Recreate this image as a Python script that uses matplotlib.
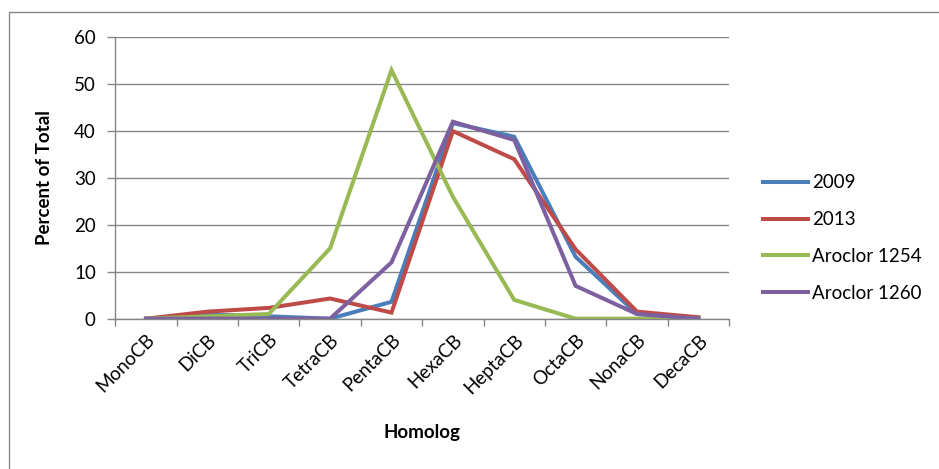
import matplotlib
matplotlib.use("Agg")
import matplotlib.pyplot as plt
import numpy as np
from matplotlib.patches import Rectangle

plt.rcParams['font.family'] = ['Lato', 'DejaVu Sans']

homologs = ['MonoCB', 'DiCB', 'TriCB', 'TetraCB', 'PentaCB',
            'HexaCB', 'HeptaCB', 'OctaCB', 'NonaCB', 'DecaCB']
y2009 = [0, 0.9, 0.5, 0, 3.6, 41.7, 38.8, 13.2, 1.0, 0.2]
y2013 = [0, 1.5, 2.3, 4.3, 1.3, 40.0, 34.0, 14.8, 1.5, 0.3]
aroclor1254 = [0, 0.5, 1.0, 15.0, 53.0, 26.0, 4.0, 0, 0, 0]
aroclor1260 = [0, 0, 0, 0, 12.0, 42.0, 38.1, 7.0, 1.0, 0]

series = [
    ('2009', y2009, '#4A7EBB'),
    ('2013', y2013, '#BE4B48'),
    ('Aroclor 1254', aroclor1254, '#98B954'),
    ('Aroclor 1260', aroclor1260, '#7D60A0'),
]

FS = 13.5
W, H = 939, 469

fig = plt.figure(figsize=(W / 100, H / 100), dpi=100)
ax = fig.add_axes([0.1228, 0.3205, 0.6536, 0.6000])

x = np.arange(len(homologs))
for name, vals, col in series:
    ax.plot(x, vals, color=col, lw=2.9, label=name, solid_joinstyle='miter')

ax.set_xlim(-0.5, len(homologs) - 0.5)
ax.set_ylim(0, 60)
ax.set_yticks(range(0, 61, 10))
ax.set_xticks(x)
ax.set_xticklabels(homologs, rotation=45, ha='right', va='top',
                   rotation_mode='anchor', fontsize=FS)
ax.set_xticks(np.arange(-0.5, len(homologs), 1), minor=True)
ax.tick_params(axis='x', which='major', length=0, pad=9)
ax.tick_params(axis='x', which='minor', length=5, color='#868686', width=1)
ax.tick_params(axis='y', length=6, color='#868686', width=1, labelsize=FS, pad=8)

ax.grid(axis='y', color='#868686', lw=1)
ax.set_axisbelow(True)
for s in ['top', 'right']:
    ax.spines[s].set_visible(False)
for s in ['left', 'bottom']:
    ax.spines[s].set_color('#868686')
    ax.spines[s].set_linewidth(1)

# axis titles
fig.text(45 / W, 1 - 178 / H, 'Percent of Total', fontsize=FS, fontweight='bold',
         rotation=90, ha='center', va='center')
fig.text(422 / W, 1 - 432 / H, 'Homolog', fontsize=FS, fontweight='bold',
         ha='center', va='center')

fig.legend(loc='center left', bbox_to_anchor=(763 / W, 1 - 238 / H), frameon=False,
           fontsize=FS, handlelength=2.4, handletextpad=0.2,
           labelspacing=1.05, borderpad=0, borderaxespad=0)

# outer chart border
fig.patches.append(Rectangle((9 / W, -0.1), 1.2, 1 - 12 / H + 0.1,
                             transform=fig.transFigure, fill=False,
                             edgecolor='#868686', lw=1))

fig.savefig('out.png', dpi=100)
